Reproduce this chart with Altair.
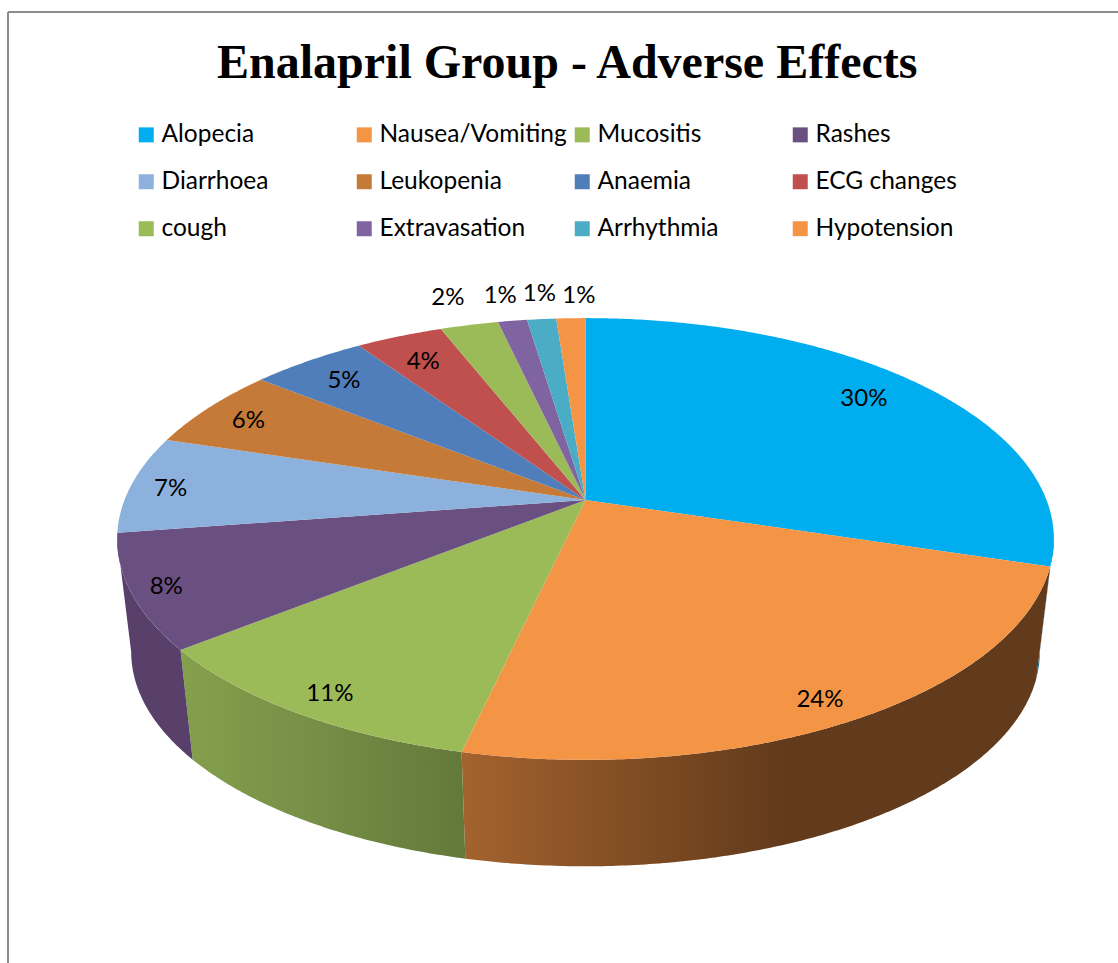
import math

import altair as alt
import pandas as pd

# Patient counts behind the percentages shown on the pie
categories = ["Alopecia", "Nausea/Vomiting", "Mucositis", "Rashes", "Diarrhoea", "Leukopenia",
              "Anaemia", "ECG changes", "cough", "Extravasation", "Arrhythmia", "Hypotension"]
counts = [25, 20, 9, 7, 6, 5, 4, 3, 2, 1, 1, 1]
colors = ["#00AEEF", "#F49445", "#9BBB59", "#6A5080", "#8DB1DD", "#C67A37",
          "#4F7EBB", "#C0504D", "#9BBB59", "#8064A2", "#4BACC6", "#F49445"]

# Label placement: fraction of the rim radius, plus small pixel nudges
label_radius = [0.85, 0.88, 0.89, 0.92, 0.91, 0.89, 0.87, 0.86, 1.14, 1.14, 1.14, 1.13]
label_nudge_x = [-7, -5, 1, -1, -2, -2, 0, -2, -5, -2, 4, 10]
label_nudge_y = [-5, 5, 2, 0, 1, 1, 0, 1, -5, -2, -2, -1]

W, H = 1118, 963
APEX_X, APEX_Y = 585.5, 500    # pixel position of the pie's apex
RX, RY = 461, 214              # pixels per unit along each plot axis
TILT = 0.1765                  # perspective foreshortening of the disc
BASE_SCALE = 0.97              # the underside of the disc recedes slightly
BASE_DROP = 114.2 / RY         # thickness of the disc in y units
VISIBLE = (math.acos(-TILT), 2 * math.pi - math.acos(-TILT))  # front rim limits

x_scale = alt.Scale(domain=[-APEX_X / RX, (W - APEX_X) / RX], range=[0, W], nice=False, zero=False)
y_scale = alt.Scale(domain=[-(H - APEX_Y) / RY, APEX_Y / RY], range=[H, 0], nice=False, zero=False)


def rim(theta):
    """Point of the tilted disc's rim at a clockwise angle from twelve o'clock."""
    d = 1 + TILT * math.cos(theta)
    return math.sin(theta) / d, math.cos(theta) / d


def sweep(a, b):
    n = max(2, int(math.degrees(b - a)) * 2)
    return [a + (b - a) * i / n for i in range(n + 1)]


total = sum(counts)
top_rows, wall_rows, label_rows = [], {}, []
start = 0.0
for name, count, r, nx, ny in zip(categories, counts, label_radius, label_nudge_x, label_nudge_y):
    a = start / total * 2 * math.pi
    b = (start + count) / total * 2 * math.pi

    outline = [(0.0, 0.0)] + [rim(t) for t in sweep(a, b)] + [(0.0, 0.0)]
    for step, (px, py) in enumerate(outline):
        top_rows.append({"category": name, "step": step, "x": px, "y": py})

    lo, hi = max(a, VISIBLE[0]), min(b, VISIBLE[1])
    if lo < hi:
        upper = [rim(t) for t in sweep(lo, hi)]
        lower = [(px * BASE_SCALE, py * BASE_SCALE - BASE_DROP) for px, py in reversed(upper)]
        ring = upper + lower + upper[:1]
        wall_rows[name] = [{"step": i, "x": px, "y": py} for i, (px, py) in enumerate(ring)]

    lx, ly = rim((a + b) / 2)
    label_rows.append({
        "x": lx * r + nx / RX,
        "y": ly * r - ny / RY,
        "label": f"{round(count / total * 100)}%",
    })
    start += count


def shaded(left, mid, right, at=0.3, flat=0.55):
    return alt.Gradient(
        gradient="linear", x1=0, x2=1, y1=0, y2=0,
        stops=[alt.GradientStop(offset=0, color=left),
               alt.GradientStop(offset=at, color=mid),
               alt.GradientStop(offset=flat, color=right),
               alt.GradientStop(offset=1, color=right)],
    )


# Shading of the visible outer wall, darkening towards the right
wall_fill = {
    "Alopecia": "#0A6E96",
    "Nausea/Vomiting": shaded("#A4632E", "#7F4C23", "#623A1C"),
    "Mucositis": shaded("#84A04C", "#778F47", "#63793A", at=0.45, flat=1.0),
    "Rashes": "#58406B",
}

x_enc = alt.X("x:Q", scale=x_scale, axis=None)
y_enc = alt.Y("y:Q", scale=y_scale, axis=None)

walls = [
    alt.Chart(pd.DataFrame(rows)).mark_line(filled=True, fill=wall_fill[name], stroke=None).encode(
        x=x_enc, y=y_enc, order=alt.Order("step:Q")
    )
    for name, rows in wall_rows.items()
]

faces = alt.Chart(pd.DataFrame(top_rows)).mark_line(filled=True, strokeWidth=0).encode(
    x=x_enc,
    y=y_enc,
    order=alt.Order("step:Q"),
    fill=alt.Fill(
        "category:N",
        scale=alt.Scale(domain=categories, range=colors),
        legend=alt.Legend(
            title=None, orient="none", legendX=134, legendY=122.5, columns=4, gridAlign="all",
            direction="horizontal", columnPadding=3, rowPadding=22, symbolType="square",
            symbolSize=225, symbolStrokeWidth=0, symbolOpacity=1, labelFont="Lato",
            labelFontSize=24.5, labelColor="#000000", labelLimit=240, symbolOffset=0,
            labelOffset=3, padding=0,
        ),
    ),
)

labels = alt.Chart(pd.DataFrame(label_rows)).mark_text(
    font="Lato", fontSize=24, color="#000000", align="center", baseline="middle", dy=2
).encode(x=x_enc, y=y_enc, text="label:N")

frame_top = alt.Chart(pd.DataFrame({"k": [0]})).mark_rule(color="#8C8C8C", strokeWidth=2).encode(
    x=alt.value(8), x2=alt.value(W), y=alt.value(12)
)
frame_left = alt.Chart(pd.DataFrame({"k": [0]})).mark_rule(color="#8C8C8C", strokeWidth=2).encode(
    x=alt.value(8), y=alt.value(12), y2=alt.value(H)
)

chart = (
    alt.layer(frame_top, frame_left, *walls, faces, labels)
    .resolve_scale(fill="independent")
    .properties(
        width=W,
        height=H,
        padding=0,
        background="#FFFFFF",
        autosize=alt.AutoSizeParams(type="none"),
        title=alt.TitleParams(
            "Enalapril Group - Adverse Effects",
            font="Liberation Serif", fontSize=48, fontWeight="bold", color="#000000",
            anchor="start", frame="group", orient="top", offset=-88, dx=217,
        ),
    )
    .configure_view(stroke=None)
)

chart.save("out.html", embed_options={"renderer": "svg", "actions": False})
